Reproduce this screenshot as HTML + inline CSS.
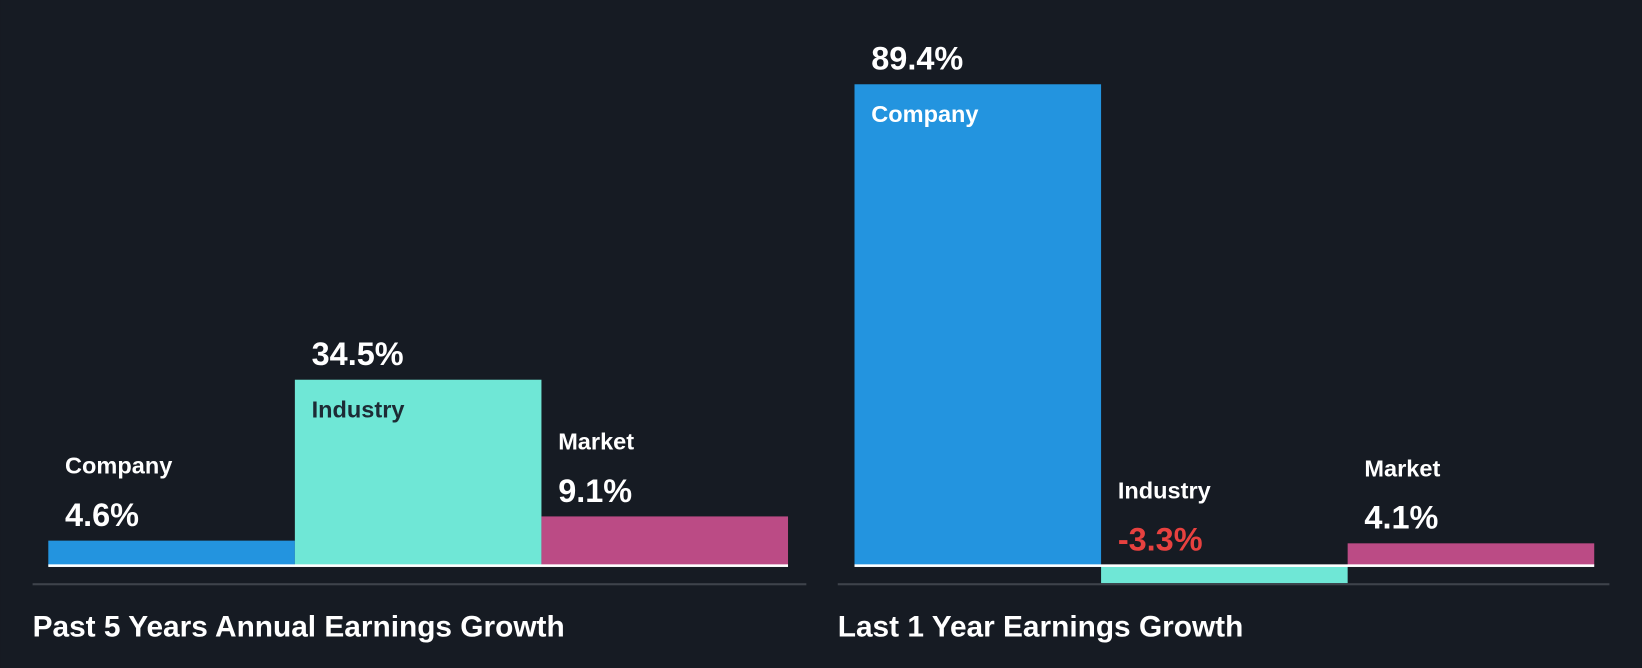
<!DOCTYPE html>
<html><head><meta charset="utf-8"><style>
html,body{margin:0;padding:0;background:#161b23;width:1642px;height:668px;overflow:hidden}
svg{display:block}
text{font-family:"Liberation Sans",Arial,sans-serif;font-weight:bold}
</style></head><body>
<svg id="chart" width="1642" height="668" viewBox="0 0 1568 638" xmlns="http://www.w3.org/2000/svg">
<rect width="1568" height="638" fill="#161b23"/>
</svg>
<script>
const categories = ["Company", "Industry", "Market"];
const past5Values = [4.6, 34.5, 9.1];
const last1Values = [89.4, -3.3, 4.1];
const panelTitles = ["Past 5 Years Annual Earnings Growth", "Last 1 Year Earnings Growth"];

const colors = ["#2394df", "#6fe7d6", "#bb4b85"];
const NS = "http://www.w3.org/2000/svg";
const svg = document.getElementById('chart');
const baseY = 540, scale = 5.14, barW = 235.5;
function yScale(v){ return baseY - v*scale; }
function mk(tag, attrs){ const e=document.createElementNS(NS,tag); for(const k in attrs) e.setAttribute(k,attrs[k]); svg.appendChild(e); return e; }

const panels = [
  {x0:46, axisX1:31, axisX2:770, titleX:31, values:past5Values},
  {x0:816, axisX1:800, axisX2:1537, titleX:800, values:last1Values}
];
panels.forEach((p, pi) => {
  p.values.forEach((v, i) => {
    const x = p.x0 + i*barW;
    const top = Math.min(yScale(v), baseY), h = Math.abs(yScale(v)-baseY);
    const r = mk('rect',{x:x,y:top,width:barW,height:h,fill:colors[i]});
    
    
    let nameY, valY, nameFill = '#ffffff';
    if (v > 0 && h > 90) { valY = top - 14; nameY = top + 36; nameFill = (i===1) ? '#1d2b35' : '#ffffff'; }
    else { const ref = v > 0 ? top : baseY; nameY = ref - 64; valY = ref - 14; }
    const n = mk('text',{x:x+16,y:nameY,fill:nameFill,'font-size':22.5});
    n.textContent = categories[i];
    
    
    const t = mk('text',{x:x+16,y:valY,fill:v<0?'#e8413f':'#ffffff','font-size':31});
    t.textContent = v.toFixed(1) + '%';
    
    
  });
  const bl = mk('rect',{x:p.x0,y:baseY-1,width:barW*3,height:2.5,fill:'#ffffff'});
  
  
  const ax = mk('rect',{x:p.axisX1,y:557,width:p.axisX2-p.axisX1,height:2,fill:'#3e434b'});
  
  
  const tt = mk('text',{x:p.titleX,y:608,fill:'#ffffff','font-size':28.5});
  tt.textContent = panelTitles[pi];
  
  
});
</script>
</body></html>
